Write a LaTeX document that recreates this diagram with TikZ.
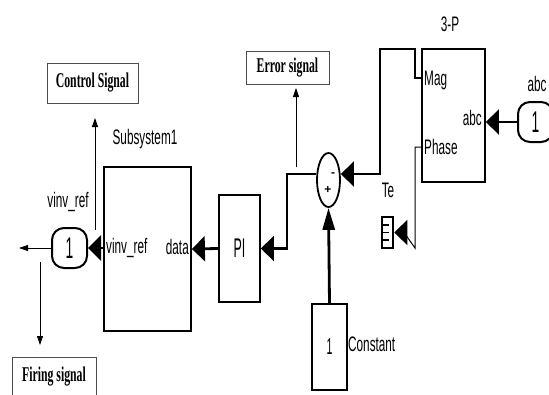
\documentclass[tikz,border=0pt]{standalone}
\usepackage{fontspec}
\setmainfont{Liberation Sans}
\newfontfamily\nar[FakeStretch=0.56]{Liberation Sans}
\newfontfamily\narr[FakeStretch=0.46]{Liberation Sans}
\newfontfamily\bser[FakeStretch=0.56]{Liberation Serif}
\usetikzlibrary{arrows.meta,shapes.geometric,calc}
\begin{document}
\begin{tikzpicture}[x=1pt,y=-1pt,
  blk/.style={draw, line width=1.8pt, inner sep=0pt},
  ann/.style={draw=black!70, line width=0.8pt, inner sep=0pt, font=\bser\bfseries\fontsize{21}{21}\selectfont},
  sig/.style={line width=2.8pt, -{Triangle[length=13pt,width=25pt]}},
  sigv/.style={line width=2.8pt, -{Triangle[length=22pt,width=12pt]}},
  fine/.style={line width=1pt},
  annarr/.style={line width=0.8pt, -{Triangle[length=9pt,width=6pt]}},
  lbl/.style={font=\nar\fontsize{21}{21}\selectfont, inner sep=0pt},
  port/.style={draw, line width=2pt, rounded corners=12pt, minimum width=35pt, minimum height=40pt, inner sep=0pt, font=\narr\fontsize{30}{30}\selectfont}
]
\useasboundingbox (0,0) rectangle (549,394);

% annotation boxes
\node[ann, minimum width=91pt, minimum height=40pt] (ctrl) at (92.5,83) {Control Signal};
\node[ann, minimum width=83pt, minimum height=33pt] (err) at (287.5,67.5) {Error signal};
\node[ann, minimum width=84pt, minimum height=40pt] (fire) at (54,377) {Firing signal};

% blocks
\node[blk, minimum width=87pt, minimum height=164pt] (sub) at (147.5,249) {};
\node[blk, minimum width=41pt, minimum height=107pt, font=\narr\fontsize{27}{27}\selectfont] (pi) at (239.5,248.5) {PI};
\node[blk, ellipse, minimum width=23pt, minimum height=54pt] (sum) at (328.5,180) {};
\node[blk, minimum width=63pt, minimum height=133pt] (tp) at (453.5,115.5) {};
\node[blk, minimum width=35pt, minimum height=86pt, font=\narr\fontsize{23}{23}\selectfont] (cst) at (329.5,347) {1};
\node[port] (outp) at (69.5,248) {1};
\node[port] (inp) at (535.5,122) {1};
\node[draw, line width=2.5pt, minimum width=11pt, minimum height=31pt, inner sep=0pt] (term) at (387.5,232.5) {};
\draw[line width=1.5pt] (383,225) -- (389,225) (383,232.5) -- (389,232.5) (383,240) -- (389,240);

% labels
\node[lbl] (t3p) at (450,24) {3-P};
\node[lbl] (tabc) at (537,84) {abc};
\node[lbl, anchor=west] (tmag) at (424,80) {Mag};
\node[lbl, anchor=west] (tph) at (424,147) {Phase};
\node[lbl, anchor=east] (tabc2) at (482,118) {abc};
\node[lbl] (tsub) at (145,139) {Subsystem1};
\node[lbl] (tvr) at (68,202) {vinv\_ref};
\node[lbl, anchor=west] (tvr2) at (106,248) {vinv\_ref};
\node[lbl, anchor=east] (tdata) at (189,247) {data};
\node[lbl, anchor=west] (tcst) at (348,344) {Constant};
\node[lbl] (tte) at (388,190) {Te};
\node[font=\bfseries\fontsize{12}{12}\selectfont, inner sep=0pt] (mn) at (333,175) {-};
\node[font=\bfseries\fontsize{12}{12}\selectfont, inner sep=0pt] (pl) at (328,190) {+};

% signal wires
\draw[sig] (inp.west) -- (inp.west -| tp.east);
\coordinate (m1) at (415,78);
\coordinate (m2) at (415,49);
\coordinate (m3) at (380,49);
\coordinate (m4) at (380,174);
\draw[sig] (tp.west |- m1) -- (m1) -- (m2) -- (m3) -- (m4) -- ([yshift=6pt]sum.east);
\coordinate (b1) at (287,248.5);
\draw[sig] ([yshift=6pt]sum.west) -| (b1) -- (pi.east);
\draw[sig] (pi.west) -- (sub.east);
\draw[sig] (sub.west |- outp.east) -- (outp.east);
\draw[sigv] (cst.north) -- (sum.south);
\coordinate (p1) at (415,147);
\coordinate (p2) at (415,248);
\coordinate (p3) at (404,232.5);
\draw[fine] (tp.west |- p1) -- (p1) -- (p2) -- (p3);
\draw[line width=1pt, -{Triangle[length=13pt,width=25pt]}] (p3) -- (term.east);

% annotation arrows
\coordinate (c1) at (95,230);
\coordinate (c2) at (95,118);
\draw[annarr] (c1) -- (c2);
\coordinate (e1) at (296,167);
\coordinate (e2) at (296,88);
\draw[annarr] (e1) -- (e2);
\coordinate (l1) at (19,248);
\draw[annarr] (outp.west) -- (l1);
\coordinate (d1) at (40,262);
\coordinate (d2) at (40,345);
\draw[annarr] (d1) -- (d2);
\end{tikzpicture}
\end{document}
